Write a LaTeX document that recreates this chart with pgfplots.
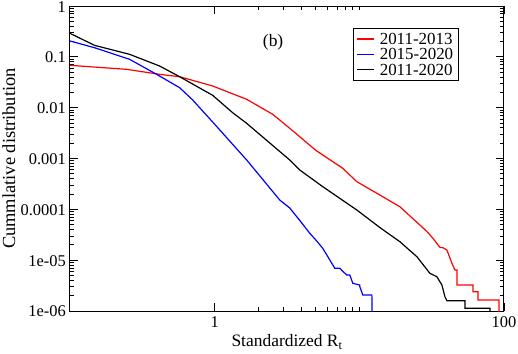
\documentclass[border=0pt]{standalone}
\usepackage{fontspec}
\setmainfont{Liberation Serif}
\usepackage{pgfplots}
\pgfplotsset{compat=1.18}
\begin{document}
\begin{tikzpicture}
\begin{axis}[
  scale only axis, width=434bp, height=305bp,
  xmode=log, ymode=log,
  xmin=0.1, xmax=100, ymin=1e-6, ymax=1,
  xtick={1,100}, xticklabels={1,100},
  minor xtick={2,3,4,5,6,7,8,9,10},
  ytick={1e-6,1e-5,1e-4,1e-3,1e-2,1e-1,1},
  yticklabels={1e-06,1e-05,0.0001,0.001,0.01,0.1,1},
  minor ytick={2e-6,3e-6,4e-6,5e-6,6e-6,7e-6,8e-6,9e-6,
               2e-5,3e-5,4e-5,5e-5,6e-5,7e-5,8e-5,9e-5,
               2e-4,3e-4,4e-4,5e-4,6e-4,7e-4,8e-4,9e-4,
               2e-3,3e-3,4e-3,5e-3,6e-3,7e-3,8e-3,9e-3,
               2e-2,3e-2,4e-2,5e-2,6e-2,7e-2,8e-2,9e-2,
               0.2,0.3,0.4,0.5,0.6,0.7,0.8,0.9},
  tick align=inside,
  major tick length=8bp, minor tick length=4bp,
  every tick/.style={black, line width=0.8bp},
  axis line style={line width=1bp},
  /pgf/number format/assume math mode=true,
  ticklabel style={font=\fontsize{16.5}{16.5}\selectfont},
  xticklabel style={anchor=north, inner sep=0pt, yshift=-5.5bp},
  yticklabel style={anchor=east, inner sep=0pt, xshift=-4bp, yshift=-0.6bp},
  xlabel={Standardized R\textsubscript{t}},
  xlabel style={at={(rel axis cs:0.5,-0.118)}, anchor=base, font=\fontsize{17.5}{17.5}\selectfont},
  ylabel={Cummlative distribution},
  ylabel style={at={(rel axis cs:-0.1267,0.5)}, anchor=base, rotate=0, font=\fontsize{18.5}{18.5}\selectfont},
  legend style={at={(0.653,0.927)}, anchor=north west,
    inner xsep=3bp, inner ysep=3bp, font=\fontsize{17}{17}\selectfont,
    row sep=0pt, column sep=3bp,
    nodes={inner xsep=2bp, inner ysep=2bp, text depth=0pt}},
  legend cell align=left,
]
\addplot[red, line width=1.2bp, no marks] coordinates {
(0.1,0.0681) (0.246,0.0568) (0.416,0.0453) (0.573,0.0406) (0.969,0.0267)
(1.665,0.0146) (2.52,0.0074) (3.304,0.00393) (5.0,0.00145) (7.687,0.000641)
(9.61,0.00035) (13.5,0.000200) (19.06,0.0001126) (23.0,6.9e-5) (26.22,4.91e-5)
(29.5,3.6e-5) (32.27,2.69e-5) (36.07,1.79e-5) (38.0,1.75e-5) (40.32,1.58e-5)
(43.67,8.67e-6) (45.81,6.4e-6) (47.29,6.4e-6) (47.29,3.24e-6) (61.03,3.24e-6)
(61.03,2.39e-6) (66.1,2.39e-6) (66.1,1.64e-6) (92.35,1.64e-6) (92.35,1e-7)
};
\addlegendentry{2011-2013}
\addplot[blue, line width=1.2bp, no marks] coordinates {
(0.1,0.205) (0.1477,0.1512) (0.258,0.0894) (0.397,0.0453) (0.573,0.0247)
(0.705,0.01415) (0.969,0.00522) (1.665,0.000934) (2.818,0.0001525) (3.304,0.0001062)
(4.0,5.4e-5) (4.544,3.38e-5) (5.0,2.5e-5) (5.589,1.71e-5) (6.2,1.05e-5) (6.768,6.91e-6)
(7.328,6.91e-6) (7.8,5.8e-6) (8.194,5.1e-6) (8.6,5.1e-6) (9.017,3.5e-6) (10.08,3.24e-6)
(10.08,3.0e-6) (10.57,2.06e-6) (12.21,2.06e-6) (12.4,1e-7)
};
\addlegendentry{2015-2020}
\addplot[black, line width=1.2bp, no marks] coordinates {
(0.1,0.29) (0.1477,0.1685) (0.258,0.1121) (0.416,0.066) (0.573,0.0406)
(0.969,0.0175) (1.332,0.00796) (1.665,0.00492) (3.304,0.000934) (3.875,0.000594)
(5.589,0.000279) (9.61,9.7e-5) (14.0,4.3e-5) (19.06,2.31e-5) (25.0,1.17e-5)
(30.75,5.51e-6) (34.39,4.72e-6) (37.24,3.24e-6) (39.06,1.91e-6) (40.32,1.59e-6)
(53.72,1.59e-6) (53.72,1.13e-6) (80.0,1.13e-6) (80.0,1e-7)
};
\addlegendentry{2011-2020}
\node[font=\fontsize{17.5}{17.5}\selectfont] at (rel axis cs:0.468,0.880) {(b)};
\coordinate (ll) at (rel axis cs:0,0);
\end{axis}
\pgfresetboundingbox
\path[use as bounding box] ([xshift=-70bp,yshift=-43bp]ll) rectangle ++(518bp,354bp);
\end{tikzpicture}
\end{document}
